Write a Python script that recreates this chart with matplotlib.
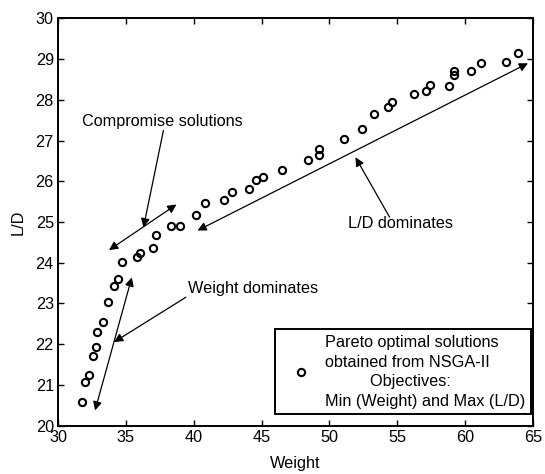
"""
Pareto front: Weight vs L/D from NSGA-II
"""
import matplotlib
matplotlib.use('Agg')
import matplotlib.pyplot as plt
from matplotlib.patches import FancyArrowPatch

plt.rcParams['font.family'] = ['Liberation Sans', 'DejaVu Sans']
FS = 11.7

# Pareto points
weight = [31.8, 32.0, 32.3, 32.55, 32.8, 32.9, 33.3, 33.7, 34.1, 34.4,
          34.75, 35.8, 36.05, 37.0, 37.25, 38.35, 39.0, 40.15, 40.8, 42.25,
          42.8, 44.1, 44.6, 45.1, 46.5, 48.4, 49.2, 49.26, 51.1, 52.4,
          53.3, 54.35, 54.6, 56.25, 57.1, 57.4, 58.8, 59.15, 59.2, 60.45,
          61.2, 63.0, 63.9]
lift_drag = [20.57, 21.06, 21.25, 21.72, 21.94, 22.3, 22.54, 23.03, 23.42, 23.6,
             24.01, 24.14, 24.23, 24.36, 24.67, 24.9, 24.9, 25.16, 25.46, 25.53,
             25.73, 25.81, 26.03, 26.1, 26.28, 26.53, 26.65, 26.8, 27.04, 27.28,
             27.65, 27.82, 27.96, 28.14, 28.23, 28.36, 28.35, 28.62, 28.7, 28.72,
             28.91, 28.94, 29.15]

fig = plt.figure(figsize=(5.45, 4.74), dpi=100, facecolor='white')
ax = fig.add_axes([0.1064, 0.1023, 0.8716, 0.8587])

pts, = ax.plot(weight, lift_drag, 'o', markersize=5.2, markeredgewidth=1.5,
               markerfacecolor='none', markeredgecolor='black', linestyle='none')

ax.set_xlim(30, 65)
ax.set_ylim(20, 30)
ax.set_xticks(range(30, 66, 5))
ax.set_yticks(range(20, 31, 1))
ax.tick_params(direction='in', length=4, width=1, top=True, right=True,
               labelsize=FS, colors='black', pad=3)
for sp in ax.spines.values():
    sp.set_linewidth(1.4)
ax.set_xlabel('Weight', fontsize=FS, labelpad=8)
ax.set_ylabel('L/D', fontsize=FS, labelpad=7)


def arrow(p1, p2, style):
    a = FancyArrowPatch(p1, p2, arrowstyle=style, mutation_scale=13,
                        linewidth=0.9, color='black', shrinkA=0, shrinkB=0)
    ax.add_patch(a)


# Compromise solutions
arrow((33.76, 24.31), (38.73, 25.43), '<|-|>')
arrow((37.77, 27.25), (36.3, 24.87), '-|>')
ax.text(31.8, 27.47, 'Compromise solutions', ha='left', va='center', fontsize=FS)

# L/D dominates
arrow((40.28, 24.79), (64.63, 28.9), '<|-|>')
arrow((54.43, 25.12), (51.92, 26.59), '-|>')
ax.text(55.2, 24.97, 'L/D dominates', ha='center', va='center', fontsize=FS)

# Weight dominates
arrow((32.73, 20.37), (35.44, 23.64), '<|-|>')
arrow((39.42, 23.15), (34.13, 22.05), '-|>')
ax.text(39.6, 23.36, 'Weight dominates', ha='left', va='center', fontsize=FS)

label = ('Pareto optimal solutions\nobtained from NSGA-II\n'
         '          Objectives:\nMin (Weight) and Max (L/D)')
leg = ax.legend([pts], [label], loc='lower right', bbox_to_anchor=(0.996, 0.0275),
                borderaxespad=0, fancybox=False, edgecolor='black', framealpha=1,
                handlelength=2.55, handletextpad=0.2, borderpad=0.35,
                fontsize=FS)
leg.get_frame().set_linewidth(1.4)
for t in leg.get_texts():
    t.set_multialignment('left')
    t.set_linespacing(1.38)

fig.savefig('out.png', dpi=100, facecolor='white')
